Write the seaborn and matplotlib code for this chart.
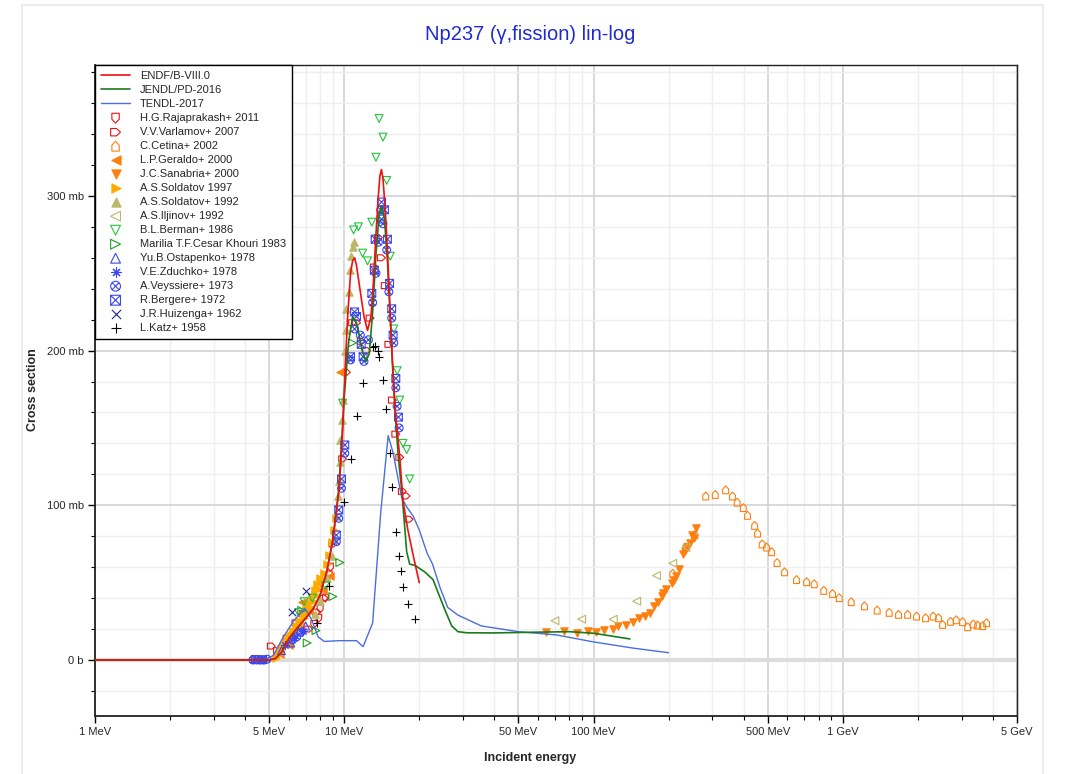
import numpy as np
import pandas as pd
import matplotlib
matplotlib.use("Agg")
import matplotlib.pyplot as plt
import seaborn as sns
from matplotlib.path import Path
from matplotlib.patches import Rectangle
from matplotlib.ticker import FixedLocator, FuncFormatter, LogLocator, MultipleLocator, NullFormatter

# evaluated data (MeV, mb)
endf_e = [1, 4.5, 5.0, 5.3, 5.6, 6.0, 6.5, 7.0, 7.5, 8.0, 8.5, 9.0, 9.5, 9.8, 10.0, 10.3, 10.6, 10.8, 11.0,
          11.2, 11.6, 12.0, 12.4, 12.8, 13.1, 13.4, 13.7, 13.9, 14.1, 14.3, 14.5, 14.7, 15.0, 15.3, 15.6,
          16.0, 16.7, 17.2, 18.0, 19.0, 20.0]
endf_xs = [0, 0, 0, 1, 5, 14, 21, 27, 33, 42, 57, 77, 108, 140, 175, 220, 250, 258, 260,
           255, 238, 222, 213, 222, 245, 275, 300, 313, 317, 311, 298, 283, 254, 222, 194,
           162, 131, 103, 84, 66, 50]

jendl_e = [1, 4.5, 5.0, 5.3, 5.6, 6.0, 6.5, 7.0, 7.5, 8.0, 8.5, 9.0, 9.5, 9.8, 10.0, 10.4, 10.8, 11.2,
           11.8, 12.2, 12.6, 13.0, 13.4, 13.8, 14.1, 14.5, 14.9, 15.3, 15.6, 16.0, 16.5, 17.0, 17.4,
           17.8, 18.3, 19.3, 21.0, 22.7, 24.0, 25.7, 27.0, 28.6, 31, 40, 60, 80, 100, 140]
jendl_xs = [0, 0, 0, 1, 5, 14, 21, 27, 33, 42, 57, 78, 110, 145, 170, 205, 222, 218,
            200, 193, 198, 225, 262, 288, 293, 285, 258, 222, 192, 160, 130, 110, 90,
            70, 62, 61, 57, 52, 42, 30, 22, 18.3, 17.6, 17.5, 18, 18.3, 17.3, 13.6]

tendl_e = [1, 4.8, 5.2, 5.7, 6.25, 6.95, 7.4, 7.85, 8.3, 9.6, 11.2, 11.9, 13.0, 14.0, 15.0, 15.7, 17.0,
           17.8, 18.9, 20.0, 21.5, 22.6, 24.2, 26.0, 28.6, 35.5, 50, 71, 99, 144, 200]
tendl_xs = [0, 0, 3, 15, 25, 33.5, 26, 15, 12, 12.5, 12.5, 8.6, 24, 95, 145, 134, 105,
            99, 93, 84, 69, 62, 47, 34, 29, 22, 18.3, 16.2, 11.8, 7.7, 4.7]

# experimental data (MeV, mb)
raj_e = [7.55, 7.9, 8.0, 8.4, 8.7, 8.8]
raj_xs = [23, 27, 33, 40, 55, 60]

varl_e = [5.1, 5.4, 5.9, 6.4, 6.85, 7.2, 7.75, 8.3, 9.0, 9.85, 10.2, 10.8, 11.2, 11.7, 12.3, 12.7, 13.2,
          13.7, 14.1, 14.6, 15.1, 15.6, 16.1, 16.7, 17.1, 17.7, 18.2]
varl_xs = [9, 6, 14, 24, 30, 20, 31, 40, 75, 130, 186, 218, 218, 206, 200, 221, 254,
           273, 260, 242, 204, 168, 146, 131, 109, 106, 91]

cet_e = [208, 234, 255, 282, 308, 339, 361, 377, 399, 415, 443, 455, 475, 495, 518, 545, 584, 652, 716,
         768, 839, 910, 968, 1081, 1222, 1374, 1535, 1674, 1820, 1977, 2148, 2305, 2423, 2514, 2706,
         2851, 3025, 3170, 3338, 3475, 3640, 3777]
cet_xs = [56, 73, 81, 106, 107, 110, 106, 102, 98.5, 93.5, 87, 82, 75, 73, 70, 63, 57, 52, 50.6,
          49.3, 45, 43, 40.3, 37.7, 35, 32.3, 30.8, 29.5, 29.5, 28.4, 27.3, 28.4, 27.3, 23, 25,
          26, 24.8, 21.5, 23.3, 22.6, 22.2, 24.1]

ger_e = [5.5, 6.0, 6.5, 6.75, 7.2, 7.85, 8.2, 8.75, 9.6]
ger_xs = [4, 10, 22, 37.7, 32, 50, 45, 54, 186]

san_e = [64.6, 76.1, 86, 95.4, 102.4, 110.5, 119.6, 125.2, 135, 144, 152.6, 160.7, 168.8, 174.9, 181,
         189, 190.8, 195, 206, 210, 215, 219.8, 228, 233, 238, 243, 247.5, 252, 257.6]
san_xs = [18.3, 18.7, 17.7, 18.7, 18.3, 19.4, 19.8, 22, 22.6, 24.8, 27.3, 28.4, 30.2, 35.1, 37.3,
          41.6, 43.1, 45.7, 49.6, 51.7, 54.3, 58.6, 68.5, 70.7, 72.9, 75.4, 80.8, 78.7, 85.1]

sol97_e = [5.3, 5.4, 5.5, 5.6, 5.7, 5.8, 5.9, 6.0, 6.1, 6.2, 6.3, 6.4, 6.5, 6.6, 6.7, 6.8, 6.9, 7.0,
           7.1, 7.2, 7.3, 7.4, 7.5, 7.6, 7.7, 7.8, 7.9, 8.0, 8.1, 8.3, 8.5, 8.7, 8.9, 9.1, 9.3]
sol97_xs = [1, 3, 4, 7, 9, 11, 13, 15, 16, 19, 18, 22, 21, 25, 24, 29, 27, 33,
            30, 37, 34, 41, 38, 45, 42, 49, 46, 53, 51, 56, 62, 68, 76, 84, 92]

sol92_e = [7.6, 8.0, 8.5, 8.9, 9.1, 9.3, 9.4, 9.5, 9.6, 9.6, 9.75, 9.85, 10.05, 10.2, 10.2, 10.4, 10.5,
           10.6, 10.8, 10.9]
sol92_xs = [30, 38, 53, 67, 78, 93, 106, 116, 128, 142, 155, 168, 200, 213, 227, 238, 252,
            261, 267, 270]

ilj_e = [70, 89.6, 120, 149, 179, 208, 235]
ilj_xs = [25.4, 26.4, 26.3, 38, 54.6, 62.5, 72.8]

berm_e = [6.55, 6.9, 7.45, 8.4, 9.85, 10.9, 11.4, 11.85, 12.4, 12.9, 13.4, 13.8, 14.3, 14.8, 15.3, 15.8,
          16.3, 16.7, 17.2, 17.8, 18.3]
berm_xs = [30.6, 37.7, 40, 48, 166, 278, 280, 263, 258, 283, 325, 350, 338, 310, 261, 214,
           187, 168, 140, 136, 117]

kho_e = [6.75, 7.1, 7.7, 9.0, 9.6, 10.8]
kho_xs = [32, 11, 19, 41, 63, 205]

ost_e = [5.6, 6.1, 6.6, 7.0]
ost_xs = [6, 11, 18, 22]

zdu_e = [5.8, 6.3, 6.8]
zdu_xs = [10, 14, 19]

vey_e = [4.3, 4.45, 4.6, 4.75, 4.9, 6.2, 6.45, 6.7, 9.3, 9.5, 9.75, 10.05, 10.6, 11.0, 11.6, 12.0, 12.5,
         13.0, 13.4, 13.7, 14.0, 14.3, 14.8, 15.1, 15.5, 15.8, 16.1, 16.3, 16.6]
vey_xs = [0, 0, 0, 0, 0.5, 13, 15, 18, 76.5, 91.6, 111, 133.6, 194, 214, 210, 193, 207,
          231, 250, 270, 291, 282, 265, 238, 221, 205, 176, 164, 150]

berg_e = [4.4, 4.7, 9.3, 9.5, 9.75, 10.05, 10.6, 11.0, 11.2, 11.7, 11.9, 12.9, 13.2, 13.3, 14.1, 14.5,
          14.1, 14.9, 15.2, 15.5, 15.7, 16.1, 16.5]
berg_xs = [0.3, 0.2, 80.8, 97, 117, 139, 196, 225, 222, 204, 196, 237, 252, 272, 296, 291,
           285, 272, 243.5, 227, 210, 182, 157]

hui_e = [6.15, 7.0]
hui_xs = [31.2, 44.8]

katz_e = [7.8, 8.7, 10.0, 10.6, 11.3, 11.9, 13.0, 13.3, 13.6, 13.8, 14.3, 14.7, 15.2, 15.6, 16.2, 16.6,
          16.9, 17.2, 18.0, 19.2]
katz_xs = [24, 48, 102, 130, 158, 179, 202, 203, 200, 196, 181, 162, 134, 112, 83, 67,
           57.5, 47.4, 36, 26.5]

x_ticks = [1, 5, 10, 50, 100, 500, 1000, 5000]
x_labels = ["1 MeV", "5 MeV", "10 MeV", "50 MeV", "100 MeV", "500 MeV", "1 GeV", "5 GeV"]
y_ticks = [0, 100, 200, 300]


def poly(pts):
    return Path(pts + [pts[0]], [Path.MOVETO] + [Path.LINETO] * (len(pts) - 1) + [Path.CLOSEPOLY])


def crossed(base):
    d = 0.707 if base == "circle" else 1.0
    diag1 = Path([(-d, -d), (d, d)], [Path.MOVETO, Path.LINETO])
    diag2 = Path([(-d, d), (d, -d)], [Path.MOVETO, Path.LINETO])
    if base == "circle":
        outline = Path.unit_circle()
    else:
        outline = poly([(-1, -1), (1, -1), (1, 1), (-1, 1)])
    return Path.make_compound_path(outline, diag1, diag2)


shield_down = poly([(-0.75, 1), (0.75, 1), (0.75, -0.2), (0, -1), (-0.75, -0.2)])
pent_right = poly([(-1, -0.75), (-1, 0.75), (0.2, 0.75), (1, 0), (0.2, -0.75)])
house_up = poly([(-0.75, -1), (0.75, -1), (0.75, 0.2), (0, 1), (-0.75, 0.2)])

sns.set_style("white")
plt.rcParams['font.family'] = ['Liberation Sans', 'DejaVu Sans']

fig = plt.figure(figsize=(10.67, 7.74), dpi=100)
ax = fig.add_axes([95 / 1067, 1 - 716 / 774, 922 / 1067, 651 / 774])
ax.set_xscale('log')

fig.patches.append(Rectangle((22 / 1067, -0.02), 1021 / 1067, 1.0 - 5 / 774 + 0.02, transform=fig.transFigure,
                             fill=False, edgecolor='#ececec', lw=1.5))

ax.axhline(0, color='#dcdcdc', lw=3, zorder=1)

sns.lineplot(x=endf_e, y=endf_xs, ax=ax, sort=False, estimator=None, color='#ee1111', lw=1.2,
             label='ENDF/B-VIII.0', zorder=4.2)
sns.lineplot(x=jendl_e, y=jendl_xs, ax=ax, sort=False, estimator=None, color='#1b7a1b', lw=1.2,
             label='JENDL/PD-2016', zorder=4.1)
sns.lineplot(x=tendl_e, y=tendl_xs, ax=ax, sort=False, estimator=None, color='#4a6ee0', lw=1.0,
             label='TENDL-2017', zorder=4)

orange = '#ff7f0e'
blue = '#3a48ee'
exp_sets = [
    (raj_e, raj_xs, shield_down, '#ee1111', False, 'H.G.Rajaprakash+ 2011'),
    (varl_e, varl_xs, pent_right, '#ee1111', False, 'V.V.Varlamov+ 2007'),
    (cet_e, cet_xs, house_up, orange, False, 'C.Cetina+ 2002'),
    (ger_e, ger_xs, '<', orange, True, 'L.P.Geraldo+ 2000'),
    (san_e, san_xs, 'v', orange, True, 'J.C.Sanabria+ 2000'),
    (sol97_e, sol97_xs, '>', '#ffaa00', True, 'A.S.Soldatov 1997'),
    (sol92_e, sol92_xs, '^', '#bdb76b', True, 'A.S.Soldatov+ 1992'),
    (ilj_e, ilj_xs, '<', '#bdb76b', False, 'A.S.Iljinov+ 1992'),
    (berm_e, berm_xs, 'v', '#22c43c', False, 'B.L.Berman+ 1986'),
    (kho_e, kho_xs, '>', '#1f9f1f', False, 'Marilia T.F.Cesar Khouri 1983'),
    (ost_e, ost_xs, '^', blue, False, 'Yu.B.Ostapenko+ 1978'),
    (zdu_e, zdu_xs, (8, 2, 0), blue, True, 'V.E.Zduchko+ 1978'),
    (vey_e, vey_xs, crossed("circle"), blue, False, 'A.Veyssiere+ 1973'),
    (berg_e, berg_xs, crossed("square"), blue, False, 'R.Bergere+ 1972'),
    (hui_e, hui_xs, 'x', '#22229a', True, 'J.R.Huizenga+ 1962'),
    (katz_e, katz_xs, '+', 'black', True, 'L.Katz+ 1958'),
]

for e, xs, mk, col, filled, lab in exp_sets:
    df = pd.DataFrame({'energy': e, 'xs': xs})
    if filled:
        sns.scatterplot(data=df, x='energy', y='xs', ax=ax, marker=mk, s=28, color=col,
                        edgecolor=col, linewidth=0.8, label=lab, zorder=3)
    else:
        sns.scatterplot(data=df, x='energy', y='xs', ax=ax, marker=mk, s=32, facecolor='none',
                        edgecolor=col, linewidth=0.8, label=lab, zorder=3)

ax.set_xlim(1, 5000)
ax.set_ylim(-36.2, 384.6)

ax.xaxis.set_major_locator(FixedLocator(x_ticks))
ax.xaxis.set_major_formatter(FuncFormatter(lambda v, p: x_labels[x_ticks.index(v)] if v in x_ticks else ''))
ax.xaxis.set_minor_locator(LogLocator(base=10, subs=np.arange(2, 10)))
ax.xaxis.set_minor_formatter(NullFormatter())
ax.yaxis.set_major_locator(FixedLocator(y_ticks))
ax.yaxis.set_major_formatter(FuncFormatter(lambda v, p: '0 b' if v == 0 else f'{v:g} mb'))
ax.yaxis.set_minor_locator(MultipleLocator(20))

ax.grid(which='major', color='#cfcfcf', lw=1.1, zorder=0)
ax.grid(which='minor', color='#efefef', lw=1.0, zorder=0)
ax.set_axisbelow(True)

ax.tick_params(axis='both', which='major', labelsize=8, length=5, width=1, color='black', pad=3)
ax.tick_params(axis='both', which='minor', length=3, width=0.8, color='black')
ax.tick_params(axis='y', which='both', left=True, right=False, direction='out')
ax.tick_params(axis='x', which='both', bottom=True, direction='out')

# inward ticks on the right edge
sec = ax.secondary_yaxis('right')
sec.yaxis.set_major_locator(FixedLocator(y_ticks))
sec.yaxis.set_minor_locator(MultipleLocator(20))
sec.yaxis.set_major_formatter(NullFormatter())
sec.tick_params(which='both', direction='in', length=4, width=0.8, color='#222222')
sec.spines['right'].set_color('#222222')

for sp in ax.spines.values():
    sp.set_color('#222222')
    sp.set_linewidth(1)
ax.spines['left'].set_linewidth(1.3)
ax.spines['bottom'].set_linewidth(1.3)

ax.set_xlabel('')
ax.set_ylabel('')
fig.text(33 / 1067, 1 - 390 / 774, 'Cross section', rotation=90, ha='center', va='center',
         fontsize=9, fontweight='bold')
fig.text(530 / 1067, 1 - 758 / 774, 'Incident energy', ha='center', va='center',
         fontsize=9, fontweight='bold')
fig.text(530 / 1067, 1 - 35 / 774, 'Np237 (\u03b3,fission) lin-log', ha='center', va='center',
         fontsize=14.5, color='#1f2ad0')

leg = ax.legend(loc='upper left', fontsize=8, frameon=True, fancybox=False, borderaxespad=0,
                labelspacing=0.36, handlelength=2.6, handletextpad=0.9, borderpad=0.55,
                scatterpoints=1, markerscale=1.25)
leg.get_frame().set_edgecolor('black')
leg.get_frame().set_linewidth(1)
leg.get_frame().set_alpha(1)
leg.set_zorder(10)

fig.savefig('out.png', dpi=100)
